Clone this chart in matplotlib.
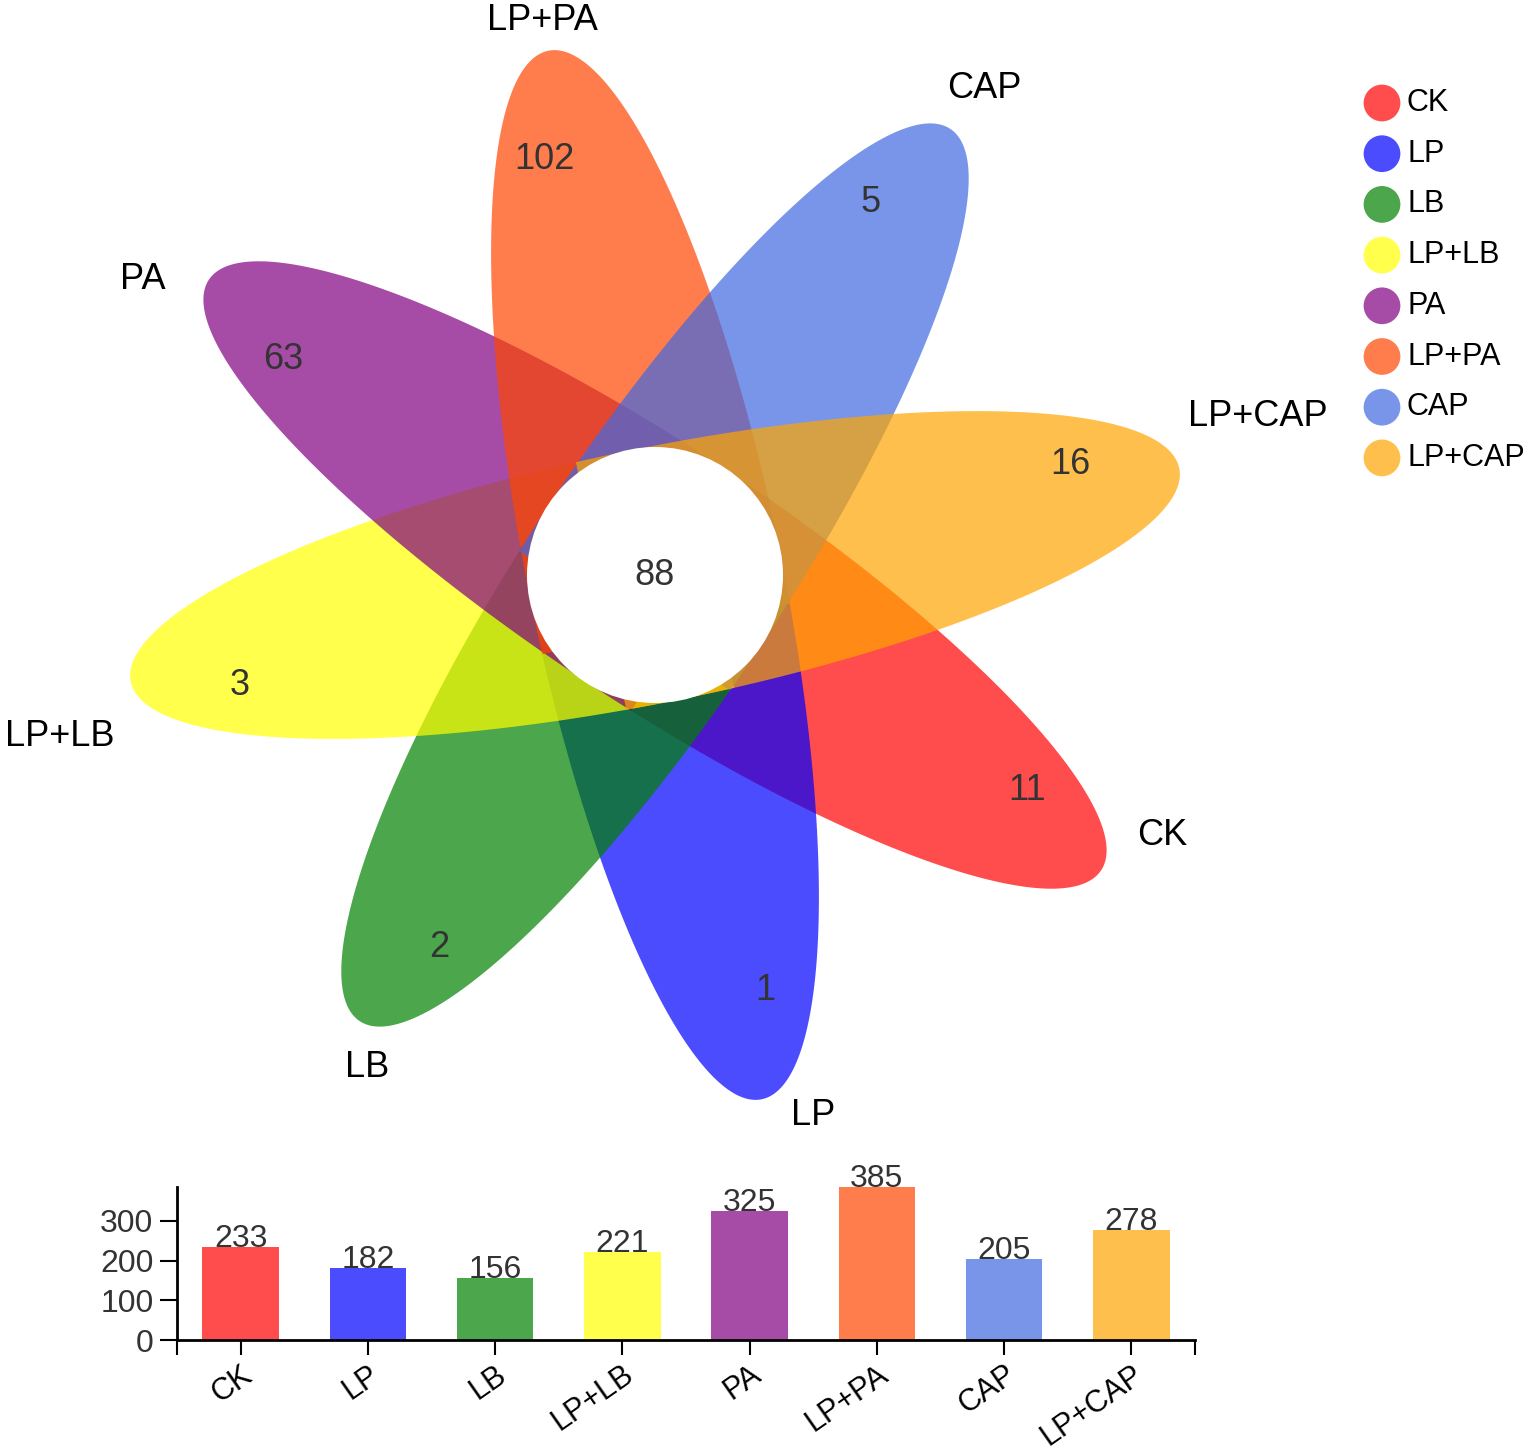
import numpy as np
import matplotlib
matplotlib.use('Agg')
import matplotlib.pyplot as plt
from matplotlib.patches import Polygon, Circle

plt.rcParams['font.family'] = ['Liberation Sans', 'DejaVu Sans']

# ---------------- data ----------------
groups = ['CK', 'LP', 'LB', 'LP+LB', 'PA', 'LP+PA', 'CAP', 'LP+CAP']
unique_counts = [11, 1, 2, 3, 63, 102, 5, 16]
core_count = 88
totals = [233, 182, 156, 221, 325, 385, 205, 278]
colors = ['red', 'blue', 'green', 'yellow', 'purple', 'orangered', 'royalblue', 'orange']
yticks = [0, 100, 200, 300]

# ---------------- styles / layout ----------------
W, H = 1535, 1450
cx, cy = 655, H - 575          # flower centre (pixel space, y up)
a, b = 535, 127                # petal semi-axes
back = 55                      # how far a petal reaches behind the centre
start_ang, step_ang = -33.5, -45
num_r, num_shift = 430, 3.4
label_radius = [570, 563, 570, 617, 591, 566, 588, 623]
label_shift = [-6.3, -4.8, -3.2, -3.7, -3.5, 0.0, 0.6, -3.2]
alpha = 0.7


def petal(ang_deg):
    """Ellipse centred on the flower centre, cut straight just behind it."""
    t0 = np.arccos(-back / a)
    t = np.linspace(-t0, t0, 400)
    s = a * np.cos(t)
    p = b * np.sin(t)
    th = np.deg2rad(ang_deg)
    xs = cx + s * np.cos(th) - p * np.sin(th)
    ys = cy + s * np.sin(th) + p * np.cos(th)
    return np.column_stack([xs, ys])


fig = plt.figure(figsize=(W / 100, H / 100), dpi=100)
ax = fig.add_axes([0, 0, 1, 1])
ax.set_xlim(0, W)
ax.set_ylim(0, H)
ax.axis('off')

for i, (g, col) in enumerate(zip(groups, colors)):
    ang = start_ang + step_ang * i
    ax.add_patch(Polygon(petal(ang), closed=True, facecolor=col, alpha=alpha,
                         edgecolor='none', zorder=2))

    t = np.deg2rad(ang + num_shift)
    ax.text(cx + num_r * np.cos(t), cy + num_r * np.sin(t), str(unique_counts[i]),
            fontsize=26, color='#333333', ha='center', va='center', zorder=6)

    t = np.deg2rad(ang - label_shift[i])
    ax.text(cx + label_radius[i] * np.cos(t), cy + label_radius[i] * np.sin(t), g,
            fontsize=26, color='black', ha='center', va='center', zorder=6)

ax.add_patch(Circle((cx, cy), 128, facecolor='white', edgecolor='none', zorder=4))
ax.text(cx, cy, str(core_count), fontsize=26, color='#333333',
        ha='center', va='center', zorder=6)

# legend
leg_x, leg_y0, leg_dy = 1382, 103, 50.7
for i, (g, col) in enumerate(zip(groups, colors)):
    y = H - (leg_y0 + leg_dy * i)
    ax.scatter([leg_x], [y], s=700, color=col, alpha=alpha, edgecolors='none', zorder=5)
    ax.text(leg_x + 25, y, g, fontsize=22, color='black', ha='left', va='center', zorder=6)

# ---------------- bar chart ----------------
bax = fig.add_axes([177 / W, 110 / H, 1018 / W, 153 / H])
x = np.arange(len(groups))
bax.bar(x, totals, width=0.6, color=colors, alpha=alpha, edgecolor='none')
bax.set_xlim(-0.5, len(groups) - 0.5)
bax.set_ylim(0, 385)
for s in ['top', 'right']:
    bax.spines[s].set_visible(False)
for s in ['left', 'bottom']:
    bax.spines[s].set_linewidth(2)
bax.set_yticks(yticks)
bax.set_yticklabels([str(v) for v in yticks], fontsize=23, color='#333333')
bax.set_xticks(x)
bax.set_xticklabels(groups, fontsize=22, rotation=35, ha='right', va='top',
                    rotation_mode='anchor')
bax.set_xticks([-0.5, len(groups) - 0.5], minor=True)
bax.tick_params(axis='x', which='both', length=11, width=1.5, direction='out', pad=3)
bax.tick_params(axis='y', length=12, width=1.5, direction='out', pad=5)
for xi, v in zip(x, totals):
    bax.text(xi, v, str(v), ha='center', va='baseline', fontsize=23, color='#333333')

fig.savefig('out.png', dpi=100)
